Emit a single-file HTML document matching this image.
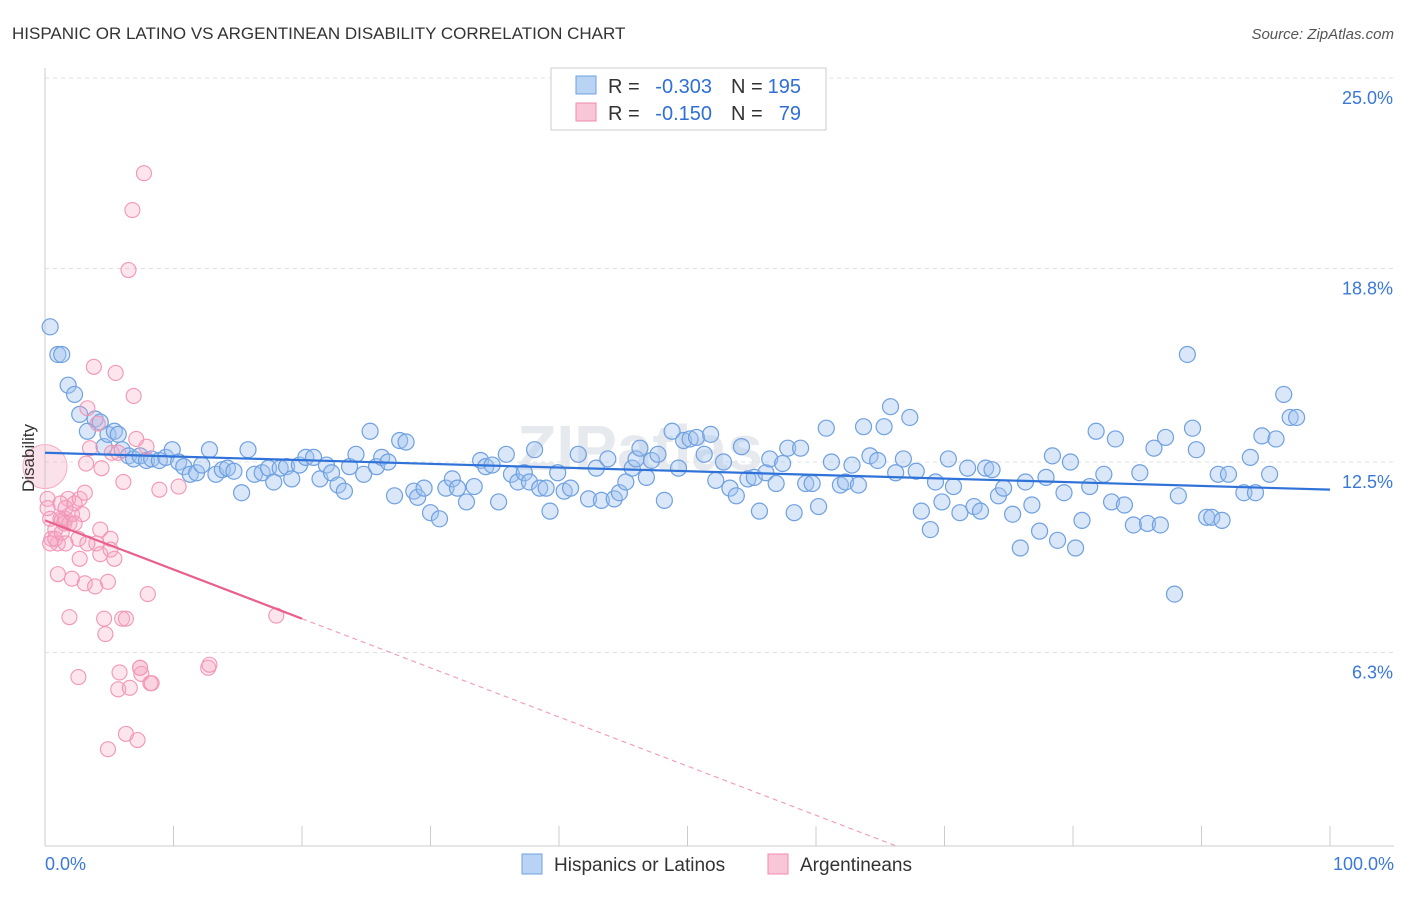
<!DOCTYPE html>
<html><head><meta charset="utf-8"><style>
body{margin:0;background:#fff;font-family:"Liberation Sans",sans-serif;}
svg text{font-family:"Liberation Sans",sans-serif;}
</style></head><body>
<svg id="chart" width="1406" height="892" viewBox="0 0 1406 892">
<text x="12" y="39" font-size="17" fill="#333">HISPANIC OR LATINO VS ARGENTINEAN DISABILITY CORRELATION CHART</text>
<text x="1394" y="39" font-size="15" fill="#555" font-style="italic" text-anchor="end">Source: ZipAtlas.com</text>
<text x="640" y="470" font-size="64" fill="#e6e9ee" font-weight="bold" text-anchor="middle">ZIPatlas</text>
<g id="grid"></g>
<g id="axes"></g>
<g id="pts"></g>
<g id="trend"></g>
<text x="34" y="458" font-size="17" fill="#333" text-anchor="middle" transform="rotate(-90 34 458)">Disability</text>
<g>
<rect x="551" y="68" width="275" height="62" fill="#fff" stroke="#ccc"/>
<rect x="576" y="76" width="20" height="18" fill="#b9d3f5" stroke="#6fa0e0"/>
<text x="608" y="93" font-size="20" fill="#333">R =</text>
<text x="712" y="93" font-size="20" fill="#2f6fd6" text-anchor="end">-0.303</text>
<text x="731" y="93" font-size="20" fill="#333">N =</text>
<text x="801" y="93" font-size="20" fill="#2f6fd6" text-anchor="end">195</text>
<rect x="576" y="103" width="20" height="18" fill="#f8c6d6" stroke="#f08bb0"/>
<text x="608" y="120" font-size="20" fill="#333">R =</text>
<text x="712" y="120" font-size="20" fill="#2f6fd6" text-anchor="end">-0.150</text>
<text x="731" y="120" font-size="20" fill="#333">N =</text>
<text x="801" y="120" font-size="20" fill="#2f6fd6" text-anchor="end">79</text>
</g>
<g>
<rect x="522" y="854" width="20" height="20" fill="#b9d3f5" stroke="#6fa0e0"/>
<text x="554" y="871" font-size="19" fill="#333">Hispanics or Latinos</text>
<rect x="768" y="854" width="20" height="20" fill="#f8c6d6" stroke="#f08bb0"/>
<text x="800" y="871" font-size="19" fill="#333">Argentineans</text>
</g>
</svg>
<script>
const yTicks=[25,18.8,12.5,6.3];
const yTickLabels=["25.0%","18.8%","12.5%","6.3%"];
const xTickVals=[0,10,20,30,40,50,60,70,80,90,100];
const xEndLabels=["0.0%","100.0%"];
const blueX=[0.4,1.0,1.3,1.8,2.3,2.7,3.3,3.9,4.3,4.6,4.9,5.4,5.7,6.0,6.5,6.9,7.4,7.9,8.3,8.9,9.4,9.9,10.4,10.8,11.3,11.8,12.2,12.8,13.3,13.8,14.2,14.7,15.3,15.8,16.3,16.9,17.4,17.8,18.3,18.8,19.2,19.8,20.3,20.9,21.4,21.9,22.3,22.8,23.3,23.7,24.2,24.8,25.3,25.8,26.2,26.7,27.2,27.6,28.1,28.7,29.0,29.5,30.0,30.7,31.2,31.7,32.1,32.8,33.4,33.9,34.3,34.8,35.3,35.9,36.3,36.8,37.3,37.7,38.1,38.5,39.0,39.3,39.9,40.4,40.9,41.5,42.3,42.9,43.3,43.8,44.3,44.7,45.2,45.7,46.0,46.3,46.8,47.2,47.7,48.2,48.8,49.3,49.7,50.2,50.7,51.3,51.8,52.2,52.8,53.3,53.8,54.2,54.7,55.2,55.6,56.1,56.4,56.9,57.4,57.8,58.3,58.8,59.2,59.7,60.2,60.8,61.2,61.9,62.3,62.8,63.3,63.7,64.2,64.8,65.3,65.8,66.2,66.8,67.3,67.8,68.2,68.9,69.3,69.8,70.3,70.7,71.2,71.8,72.3,72.8,73.2,73.7,74.2,74.6,75.3,75.9,76.3,76.8,77.4,77.9,78.4,78.8,79.3,79.8,80.2,80.7,81.3,81.8,82.4,83.0,83.3,84.0,84.7,85.2,85.8,86.3,86.8,87.2,87.9,88.2,88.9,89.3,89.6,90.4,90.8,91.3,91.6,92.1,93.3,93.8,94.2,94.7,95.3,95.8,96.4,96.9,97.4];
const blueY=[16.9,16.0,16.0,15.0,14.7,14.05,13.5,13.9,13.8,13.0,13.4,13.5,13.4,12.9,12.7,12.6,12.7,12.55,12.6,12.55,12.65,12.9,12.5,12.35,12.1,12.15,12.4,12.9,12.1,12.25,12.3,12.2,11.5,12.9,12.1,12.15,12.3,11.85,12.3,12.35,11.95,12.4,12.65,12.65,11.95,12.4,12.15,11.75,11.55,12.35,12.75,12.1,13.5,12.35,12.65,12.5,11.4,13.2,13.15,11.55,11.35,11.65,10.85,10.65,11.65,11.95,11.65,11.2,11.7,12.55,12.35,12.4,11.2,12.75,12.1,11.85,12.15,11.85,12.9,11.65,11.65,10.9,12.15,11.55,11.65,12.75,11.3,12.3,11.25,12.6,11.3,11.5,11.85,12.3,12.6,12.95,12.0,12.55,12.75,11.25,13.5,12.3,13.2,13.25,13.3,12.75,13.4,11.9,12.5,11.65,11.4,13.0,11.95,12.0,10.9,12.15,12.6,11.8,12.45,12.95,10.85,12.95,11.8,11.8,11.05,13.6,12.5,11.75,11.85,12.4,11.75,13.65,12.7,12.55,13.65,14.3,12.15,12.6,13.95,12.2,10.9,10.3,11.85,11.2,12.6,11.7,10.85,12.3,11.05,10.9,12.3,12.25,11.4,11.65,10.8,9.7,11.85,11.1,10.25,12.0,12.7,9.95,11.5,12.5,9.7,10.6,11.7,13.5,12.1,11.2,13.25,11.1,10.45,12.15,10.5,12.95,10.45,13.3,8.2,11.4,16.0,13.6,12.9,10.7,10.7,12.1,10.6,12.1,11.5,12.65,11.5,13.35,12.1,13.25,14.7,13.95,13.95];
const pinkX=[0.2,0.4,0.5,0.8,1.0,1.2,1.3,1.5,1.6,1.8,1.9,2.1,2.3,2.6,2.7,2.9,3.1,3.2,3.3,3.5,3.8,4.0,4.1,4.3,4.4,4.6,4.7,4.9,5.1,5.2,5.4,5.5,5.7,5.8,6.0,6.1,6.3,6.5,6.6,6.8,6.9,7.1,7.2,7.4,7.5,7.7,7.9,8.0,8.2,8.3,8.9,10.4,12.7,12.8,18.0,4.9,6.3,2.6,1.9,1.0,2.1,3.1,3.9,5.1,1.2,1.6,2.3,3.3,4.3,0.4,0.8,0.2,1.3,1.6,2.7,5.7,7.4];
const pinkY=[11.3,10.65,10.0,10.3,9.85,10.65,10.6,10.5,10.65,11.3,10.5,10.8,11.15,10.0,11.3,10.8,11.5,12.45,14.25,12.95,15.6,9.85,13.75,9.5,12.3,7.4,6.9,8.6,10.0,12.8,9.35,15.4,5.1,5.65,7.4,11.85,7.4,18.75,5.15,20.7,14.65,13.25,3.45,5.8,5.6,21.9,13.0,8.2,5.3,5.3,11.6,11.7,5.8,5.9,7.5,3.15,3.65,5.5,7.45,8.85,8.7,8.55,8.45,9.65,11.15,11.0,10.5,9.85,10.3,9.85,10.0,11.0,10.2,9.85,9.35,12.8,5.8];
const blueTrend=[12.8,11.6];
const pinkTrend=[10.6,7.4];
const pinkTrendSolidEnd=20;
const NS="http://www.w3.org/2000/svg";
const X0=45,X1=1330,Y0=846,YPX=30.72;
const sx=v=>X0+(X1-X0)*v/100;
const sy=v=>Y0-v*YPX;
function mk(t,a,p){const e=document.createElementNS(NS,t);for(const k in a)e.setAttribute(k,a[k]);p.appendChild(e);return e;}
const grid=document.getElementById('grid'),axes=document.getElementById('axes'),pts=document.getElementById('pts'),trend=document.getElementById('trend');
yTicks.forEach((v,i)=>{
 const l=mk('line',{x1:X0,x2:1394,y1:sy(v),y2:sy(v),stroke:'#dde0e5','stroke-dasharray':'4 4'},grid);
 
 
 const t=mk('text',{x:1393,y:sy(v)+26,'font-size':18,fill:'#3a78d8','text-anchor':'end'},grid);
 t.textContent=yTickLabels[i];
 
 
});
const al=mk('line',{x1:X0,x2:X0,y1:68,y2:Y0,stroke:'#ccc'},axes);


const bl=mk('line',{x1:X0,x2:1394,y1:Y0,y2:Y0,stroke:'#ccc'},axes);


xTickVals.forEach(v=>{
 const t=mk('line',{x1:sx(v),x2:sx(v),y1:826,y2:Y0,stroke:'#ccc'},axes);
 
 
});
[[0,'start',45],[100,'end',1394]].forEach((d,i)=>{
 const t=mk('text',{x:d[2],y:870,'font-size':18,fill:'#3a78d8','text-anchor':d[1]},axes);
 t.textContent=xEndLabels[i];
 
 
});
blueX.forEach((x,i)=>{
 const c=mk('circle',{cx:sx(x),cy:sy(blueY[i]),r:8,fill:'rgba(160,196,240,0.4)',stroke:'#6fa0e0','stroke-width':1.2},pts);
 
 
});
const big=mk('circle',{cx:sx(0),cy:sy(12.35),r:22,fill:'rgba(244,170,195,0.35)',stroke:'#f5b0c8','stroke-width':1},pts);


pinkX.forEach((x,i)=>{
 const c=mk('circle',{cx:sx(x),cy:sy(pinkY[i]),r:7.5,fill:'rgba(244,170,195,0.3)',stroke:'#f295b6','stroke-width':1.1},pts);
 
 
});
const bt=mk('line',{x1:sx(0),y1:sy(blueTrend[0]),x2:sx(100),y2:sy(blueTrend[1]),stroke:'#2f72d8','stroke-width':2.2},trend);


const slope=(pinkTrend[1]-pinkTrend[0])/pinkTrendSolidEnd;
const xz=-pinkTrend[0]/slope;
const pt=mk('line',{x1:sx(0),y1:sy(pinkTrend[0]),x2:sx(pinkTrendSolidEnd),y2:sy(pinkTrend[1]),stroke:'#e8608e','stroke-width':2.2},trend);


const pd=mk('line',{x1:sx(pinkTrendSolidEnd),y1:sy(pinkTrend[1]),x2:sx(xz),y2:sy(0),stroke:'#f0a0bc','stroke-width':1.2,'stroke-dasharray':'5 4'},trend);


</script>
</body></html>
